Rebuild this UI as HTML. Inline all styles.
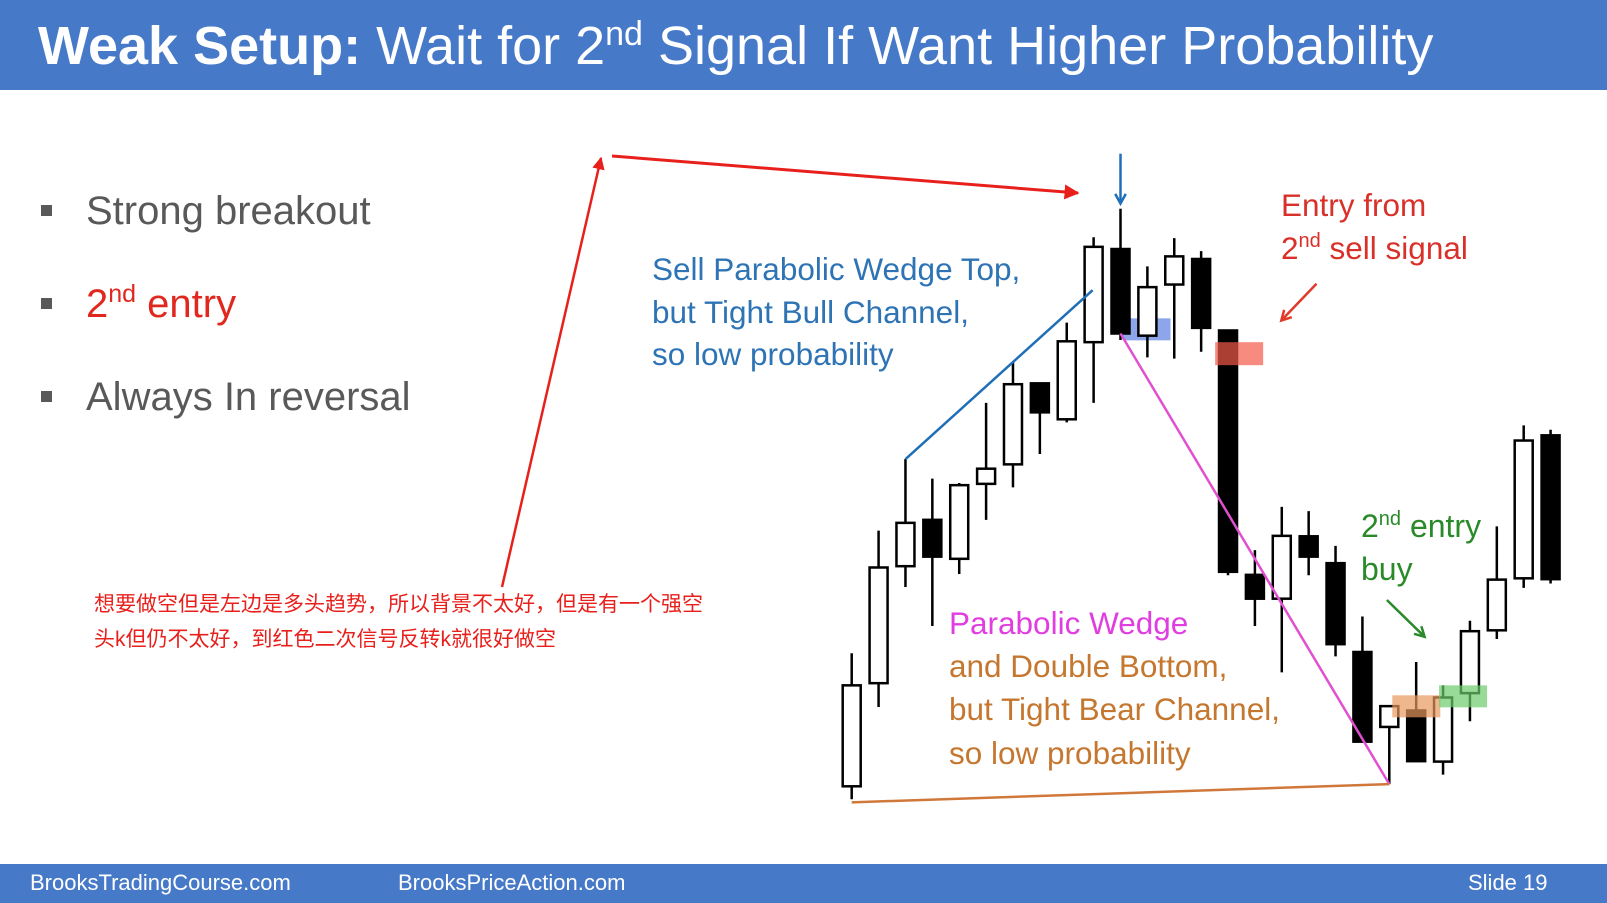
<!DOCTYPE html>
<html><head><meta charset="utf-8">
<style>
html,body{margin:0;padding:0;background:#fff;}
svg{display:block;}
text{font-family:"Liberation Sans","Noto Sans CJK SC",sans-serif;}
</style></head>
<body>
<svg id="slide" width="1607" height="903" viewBox="0 0 1607 903" xmlns="http://www.w3.org/2000/svg">
<defs>
<marker id="ar" viewBox="0 0 10 10" refX="9" refY="5" markerWidth="5" markerHeight="5" orient="auto"><path d="M0,0L10,5L0,10z" fill="#e8201c"/></marker>
</defs>
<rect x="0" y="0" width="1607" height="90" fill="#4679c8"/>
<text x="38" y="64" font-size="54" fill="#fff"><tspan font-weight="bold">Weak Setup:</tspan> Wait for 2<tspan font-size="34" dy="-19">nd</tspan><tspan dy="19"> Signal If Want Higher Probability</tspan></text>

<g>
<rect x="41" y="205" width="11" height="11" fill="#595959"/>
<text x="86" y="224" font-size="40" fill="#595959">Strong breakout</text>
<rect x="41" y="298" width="11" height="11" fill="#595959"/>
<text x="86" y="317" font-size="40" fill="#e0281e">2<tspan font-size="25" dy="-15">nd</tspan><tspan dy="15"> entry</tspan></text>
<rect x="41" y="391" width="11" height="11" fill="#595959"/>
<text x="86" y="410" font-size="40" fill="#595959">Always In reversal</text>
</g>

<text font-size="21" fill="#e8201c"><tspan x="94" y="611">想要做空但是左边是多头趋势，所以背景不太好，但是有一个强空</tspan><tspan x="94" y="646">头k但仍不太好，到红色二次信号反转k就很好做空</tspan></text>

<line x1="502" y1="587" x2="601" y2="158" stroke="#e8201c" stroke-width="2.5" marker-end="url(#ar)"/>
<line x1="612" y1="156" x2="1078" y2="193" stroke="#e8201c" stroke-width="3" marker-end="url(#ar)"/>

<g id="chart"></g>

<text font-size="31.5" fill="#2e74b5"><tspan x="652" y="280">Sell Parabolic Wedge Top,</tspan><tspan x="652" y="323">but Tight Bull Channel,</tspan><tspan x="652" y="365">so low probability</tspan></text>
<text font-size="31.5" fill="#d9302a"><tspan x="1281" y="216">Entry from</tspan><tspan x="1281" y="259">2<tspan font-size="20" dy="-12">nd</tspan><tspan dy="12"> sell signal</tspan></tspan></text>
<text font-size="31.5"><tspan x="949" y="634" fill="#e03ee0">Parabolic Wedge</tspan><tspan x="949" y="677" fill="#c5772f">and Double Bottom,</tspan><tspan x="949" y="720" fill="#c5772f">but Tight Bear Channel,</tspan><tspan x="949" y="764" fill="#c5772f">so low probability</tspan></text>
<text font-size="32" fill="#2a8a2a"><tspan x="1361" y="537">2<tspan font-size="20" dy="-12">nd</tspan><tspan dy="12"> entry</tspan></tspan><tspan x="1361" y="580">buy</tspan></text>

<rect x="0" y="864" width="1607" height="39" fill="#4679c8"/>
<text x="30" y="890" font-size="22" fill="#fff">BrooksTradingCourse.com</text>
<text x="398" y="890" font-size="22" fill="#fff">BrooksPriceAction.com</text>
<text x="1468" y="890" font-size="22" fill="#fff">Slide  19</text>
</svg>
<script>
const opens  = [10.5,34.3,61.3,72,63,80.3,84.8,103.5,95.2,113,134.5,114.5,126.3,132.2,115.7,59.3,53.8,68.2,62,41.5,24.2,28,16.2,32,46.5,58.5,91.5];
const closes = [33.8,61,71.3,63.5,80,83.8,103.3,96.8,113.2,135,115,125.7,132.8,116.3,60,53.8,68.3,63.5,43.3,20.8,29,16.3,31,46.3,58.2,90.3,58.3];
const highs  = [41.2,69.5,86,81.5,80.5,99,108.5,103.5,117.5,137.2,143.8,130.5,137,134,115.7,65,75,74,66,49.7,29,39.2,33.8,48.7,70.5,93.8,92.8];
const lows   = [7.5,28.8,56.5,47.5,59.5,72,79.5,87.2,94.5,99,113.5,109.5,109.2,110.8,59.2,47.5,36.8,59.2,40.5,20.8,11,16.3,13.2,25.5,44.5,56.3,57.3];

const NS = "http://www.w3.org/2000/svg";
const g = document.getElementById('chart');
function xS(i){ return 851.7 + i*26.88; }
function yS(p){ return 831.8 - 4.333*p; }
function mk(tag, attrs){ const e=document.createElementNS(NS,tag); for(const k in attrs) e.setAttribute(k,attrs[k]); g.appendChild(e); return e; }

let b;
b = mk('rect',{x:xS(10)+2,y:yS(118.5),width:48,height:22,fill:'#6f8fe6',opacity:0.8});



for(let i=0;i<opens.length;i++){
  const x=xS(i), bull=closes[i]>=opens[i];
  const top=yS(Math.max(opens[i],closes[i])), bot=yS(Math.min(opens[i],closes[i]));
  const w=mk('line',{x1:x,y1:yS(highs[i]),x2:x,y2:yS(lows[i]),stroke:'#000','stroke-width':2.5});
  
  
  const r=mk('rect',{x:x-9,y:top,width:18,height:Math.max(bot-top,2),fill:bull?'#fff':'#000',stroke:'#000','stroke-width':2.5});
  
  
}
b = mk('rect',{x:xS(13)+14,y:yS(113),width:48,height:23,fill:'#f55a4a',opacity:0.7});


b = mk('rect',{x:xS(20)+3,y:yS(31.5),width:48,height:22,fill:'#e8995c',opacity:0.7});


b = mk('rect',{x:xS(22)-4,y:yS(33.8),width:48,height:22,fill:'#6ccc6c',opacity:0.7});



let l;
l = mk('line',{x1:xS(2),y1:yS(highs[2]),x2:xS(9)-1,y2:yS(125),stroke:'#1f6fb8','stroke-width':2.5});


l = mk('line',{x1:xS(10),y1:yS(115),x2:xS(20),y2:yS(lows[20]),stroke:'#e050d0','stroke-width':2.5});


l = mk('line',{x1:xS(0),y1:yS(lows[0]-0.7),x2:xS(20),y2:yS(lows[20]),stroke:'#d0783a','stroke-width':2.5});



function arrow(x1,y1,x2,y2,col,name){
  const a=mk('g',{});
  
  
  const ang=Math.atan2(y2-y1,x2-x1), h=11;
  const ln=document.createElementNS(NS,'line');
  ln.setAttribute('x1',x1);ln.setAttribute('y1',y1);ln.setAttribute('x2',x2);ln.setAttribute('y2',y2);
  ln.setAttribute('stroke',col);ln.setAttribute('stroke-width',2.5);a.appendChild(ln);
  const p=document.createElementNS(NS,'polyline');
  const pts=[[x2-h*Math.cos(ang-0.5),y2-h*Math.sin(ang-0.5)],[x2,y2],[x2-h*Math.cos(ang+0.5),y2-h*Math.sin(ang+0.5)]];
  p.setAttribute('points',pts.map(q=>q.join(',')).join(' '));
  p.setAttribute('fill','none');p.setAttribute('stroke',col);p.setAttribute('stroke-width',2.5);a.appendChild(p);
}
arrow(xS(10),153.7,xS(10),203.5,'#1f6fb8','top-signal-arrow');
arrow(1316.5,283.7,1281.3,320.5,'#e03a2a','sell-entry-arrow');
arrow(1386.9,600,1424.6,636.8,'#2a8a2a','buy-entry-arrow');
</script>
</body></html>
